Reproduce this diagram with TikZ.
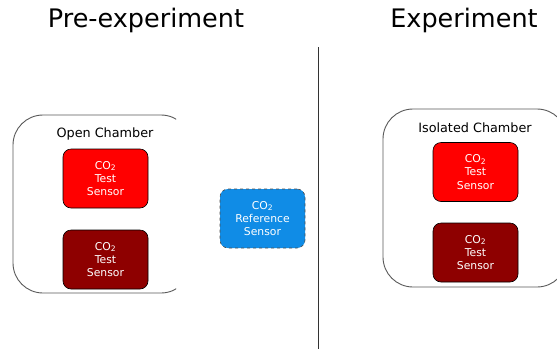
\documentclass[tikz,border=0pt]{standalone}
\usepackage{fontspec}
\setmainfont{DejaVu Sans}
\definecolor{sensred}{RGB}{255,0,0}
\definecolor{sensdark}{RGB}{142,0,0}
\definecolor{sensblue}{RGB}{16,140,230}
\definecolor{outline}{RGB}{90,90,90}
\tikzset{
  sensor/.style={draw=black, line width=0.6pt, rounded corners=8pt, minimum width=85pt, minimum height=59pt, text=white, align=center, font=\fontsize{10.8}{13.4}\selectfont, inner sep=0pt},
  chamber/.style={draw=outline, line width=0.9pt, rounded corners=30pt},
  title/.style={font=\fontsize{25.5}{30}\selectfont, text=black},
  chlabel/.style={font=\fontsize{12.8}{15}\selectfont, text=black}
}
\begin{document}
\begin{tikzpicture}[x=1pt,y=-1pt]
\useasboundingbox (0,0) rectangle (557,349);
\fill[white] (0,0) rectangle (557,349);
% titles
\node[title] (pre) at (146,20) {Pre-experiment};
\node[title] (exp) at (464,20) {Experiment};
% divider
\coordinate (dtop) at (318,47);
\coordinate (dbot) at (318,349);
\draw[line width=1pt, black!80] (dtop) -- (dbot);
% open chamber
\begin{scope}
\clip (0,0) rectangle (176,349);
\draw[chamber] (13,115) rectangle (191,293);
\end{scope}
\node[chlabel] (openlbl) at (105,134) {Open Chamber};
\node[sensor, fill=sensred] (s1) at (105.5,178.5) {CO\textsubscript{2}\\Test\\Sensor};
\node[sensor, fill=sensdark] (s2) at (105.5,259.5) {CO\textsubscript{2}\\Test\\Sensor};
% reference sensor
\node[sensor, fill=sensblue, draw=black!70, dashed] (ref) at (262.5,218.5) {CO\textsubscript{2}\\Reference\\Sensor};
% isolated chamber
\begin{scope}
\clip (0,0) rectangle (557,349);
\draw[chamber] (383,109) rectangle (567,287);
\end{scope}
\node[chlabel] (isolbl) at (475,128) {Isolated Chamber};
\node[sensor, fill=sensred] (s3) at (475.5,172) {CO\textsubscript{2}\\Test\\Sensor};
\node[sensor, fill=sensdark] (s4) at (475.5,252.5) {CO\textsubscript{2}\\Test\\Sensor};
\end{tikzpicture}
\end{document}
